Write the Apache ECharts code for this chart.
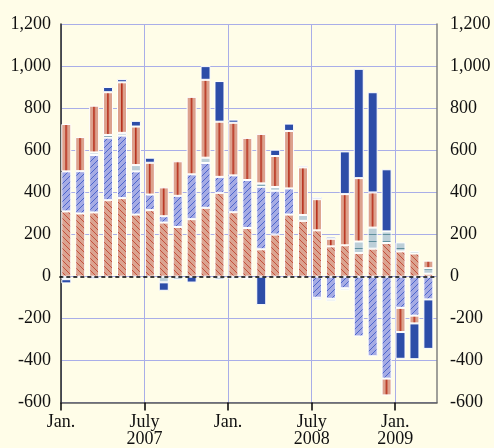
<!DOCTYPE html>
<html><head><meta charset="utf-8">
<script src="https://cdn.jsdelivr.net/npm/echarts@6/dist/echarts.min.js"></script>
<style>html,body{margin:0;padding:0;background:#fffde8;}#c{width:494px;height:448px;}</style>
</head><body><div id="c"></div>
<script>
// Months Jan 2007 .. Mar 2009 (27 bars)
const months = ['2007-01','2007-02','2007-03','2007-04','2007-05','2007-06','2007-07','2007-08','2007-09','2007-10','2007-11','2007-12',
  '2008-01','2008-02','2008-03','2008-04','2008-05','2008-06','2008-07','2008-08','2008-09','2008-10','2008-11','2008-12',
  '2009-01','2009-02','2009-03'];
// Series (stack order bottom to top)
const seriesA = [310,300,305,363,373,295,316,257,236,273,327,398,306,231,130,200,295,265,220,144,149,112,133,160,120,110,14];      // salmon, diagonal hatch
const seriesB = [190,201,273,297,297,205,74,30,148,213,213,76,175,228,297,208,124,0,-100,-105,-55,-284,-378,-484,-148,-185,-108]; // blue, diagonal hatch
const seriesC = [-12,-5,12,13,13,30,0,-27,-15,0,25,-15,-12,-8,16,18,0,28,-10,-12,-10,55,100,55,43,12,26];                      // grey, horizontal lines
const seriesD = [225,162,222,203,240,183,151,137,164,368,370,262,250,200,235,147,273,226,148,36,243,301,167,-80,-115,-37,36];   // salmon, vertical line
const seriesE = [-20,0,-10,25,15,27,24,-40,0,-28,65,193,15,-4,-135,30,35,8,10,10,203,519,476,295,-127,-170,-235];               // dark blue
// Axis labels
const yMin = -600, yMax = 1200, yStep = 200;
const xTickValues = [0, 6, 12, 18, 24];
const xTickLabels = ['Jan.', 'July\n2007', 'Jan.', 'July\n2008', 'Jan.\n2009'];

const W = 494, H = 448, gLeft = 61, gRight = 57, gTop = 24, gBottom = 45;
const nSlots = months.length;
const slot = (W - gLeft - gRight) / nSlots;
const barShift = 0.12 * slot; // bars sit slightly left of slot centre

function pattern(w, h, draw, extra) {
  const c = document.createElement('canvas'); c.width = w; c.height = h;
  const ctx = c.getContext('2d'); draw(ctx, w, h);
  return Object.assign({image: c, repeat: 'repeat'}, extra || {});
}
const patA = pattern(6, 6, (ctx) => {
  ctx.fillStyle = '#dba390'; ctx.fillRect(0, 0, 6, 6);
  ctx.fillStyle = '#c4503c'; for (let i = 0; i < 6; i++) ctx.fillRect(i, i, 1, 1);
});
const patB = pattern(6, 6, (ctx) => {
  ctx.fillStyle = '#a5abe4'; ctx.fillRect(0, 0, 6, 6);
  ctx.fillStyle = '#4c66cc'; for (let i = 0; i < 6; i++) ctx.fillRect(i, 5 - i, 1, 1);
});
const patC = pattern(4, 7, (ctx) => {
  ctx.fillStyle = '#bccfd8'; ctx.fillRect(0, 0, 4, 7);
  ctx.fillStyle = '#5f8f9c'; ctx.fillRect(0, 3, 4, 1);
});
const sc = slot / 14;
const patD = pattern(14, 2, (ctx) => {
  ctx.fillStyle = '#dca18d'; ctx.fillRect(0, 0, 14, 2);
  ctx.fillStyle = '#b8321f'; ctx.fillRect(6, 0, 1, 2);
  ctx.fillStyle = '#c55a45'; ctx.fillRect(7, 0, 1, 2);
}, {x: gLeft - barShift + 0.5 * slot - 7 * sc, scaleX: sc});

const fmt = v => String(v).replace(/\B(?=(\d{3})+(?!\d))/g, ',');
const toData = arr => arr.map(v => v === 0 ? null : v);
const font = 'Liberation Serif';

function bar(name, arr, color, extra) {
  return Object.assign({
    name, type: 'bar', stack: 'all', data: toData(arr), barWidth: 10,
    xAxisIndex: 1, yAxisIndex: 2, clip: false,
    itemStyle: {color, borderColor: '#ffffff', borderWidth: 1},
    emphasis: {disabled: true}
  }, extra || {});
}

const chart = echarts.init(document.getElementById('c'), null, {renderer: 'canvas'});
chart.setOption({
  animation: false,
  backgroundColor: '#fffde8',
  grid: [
    {left: gLeft, right: gRight, top: gTop, bottom: gBottom, containLabel: false},
    {left: gLeft - barShift, right: gRight + barShift, top: gTop, bottom: gBottom, containLabel: false}
  ],
  xAxis: [{
    type: 'value', gridIndex: 0, min: 0, max: nSlots, interval: 6,
    axisLine: {show: true, onZero: false, lineStyle: {color: '#5a5a5a', width: 1.5}},
    axisTick: {show: true, customValues: xTickValues, length: 8, lineStyle: {color: '#000', width: 1.5}},
    axisLabel: {customValues: xTickValues, formatter: v => xTickLabels[xTickValues.indexOf(v)] || '',
      fontFamily: font, fontSize: 18, color: '#111', lineHeight: 17, margin: 11},
    splitLine: {show: true, lineStyle: {color: '#a9aee8', width: 1}}
  }, {
    type: 'category', gridIndex: 1, data: months, boundaryGap: true, show: false
  }],
  yAxis: [{
    type: 'value', gridIndex: 0, min: yMin, max: yMax, interval: yStep, position: 'left',
    axisLine: {show: true, lineStyle: {color: '#222', width: 1.5}},
    axisTick: {show: false},
    axisLabel: {formatter: fmt, fontFamily: font, fontSize: 18, color: '#111', margin: 10},
    splitLine: {show: true, lineStyle: {color: '#a9aee8', width: 1}}
  }, {
    type: 'value', gridIndex: 0, min: yMin, max: yMax, interval: yStep, position: 'right',
    axisLine: {show: true, lineStyle: {color: '#808080', width: 1.5}},
    axisTick: {show: false},
    axisLabel: {formatter: fmt, fontFamily: font, fontSize: 18, color: '#111', margin: 13},
    splitLine: {show: false}
  }, {
    type: 'value', gridIndex: 1, min: yMin, max: yMax, interval: yStep, show: false
  }],
  series: [
    bar('A', seriesA, patA, {markLine: {silent: true, symbol: 'none', label: {show: false},
      lineStyle: {color: '#000', type: [4, 3], width: 1.5}, data: [{yAxis: 0}]}}),
    bar('B', seriesB, patB),
    bar('C', seriesC, patC),
    bar('D', seriesD, patD),
    bar('E', seriesE, '#2d4da8')
  ]
});
</script></body></html>
